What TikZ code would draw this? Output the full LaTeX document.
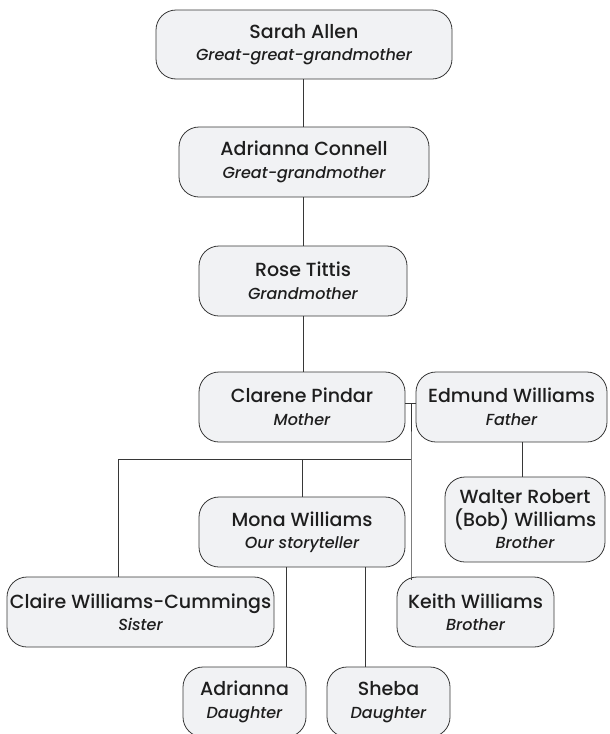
\documentclass[tikz,border=0pt]{standalone}
\usepackage{fontspec}
\setmainfont{Poppins Medium}[ItalicFont={Poppins Medium Italic}]
\definecolor{boxfill}{RGB}{241,242,244}
\definecolor{boxline}{RGB}{55,55,55}
\definecolor{inkcol}{RGB}{30,30,30}
\newcommand\kinrole[1]{{\fontsize{16}{22}\selectfont\itshape #1}}

\begin{document}
\begin{tikzpicture}[x=1pt,y=-1pt,
  person/.style={draw=boxline,fill=boxfill,rounded corners=20pt,line width=0.8pt,text=inkcol,
    align=center,inner sep=0pt,minimum height=70pt,font=\fontsize{19}{22.5}\selectfont},
  link/.style={draw=boxline,line width=0.8pt}]
\useasboundingbox (0,0) rectangle (610,734);

 \node[person,minimum width=296pt,minimum height=69pt] (sarah) at (304,44.5) {Sarah Allen\\\kinrole{Great-great-grandmother}};
 \node[person,minimum width=250pt] (connell) at (304,162) {Adrianna Connell\\\kinrole{Great-grandmother}};
 \node[person,minimum width=208pt] (rose) at (303,281) {Rose Tittis\\\kinrole{Grandmother}};
 \node[person,minimum width=206pt] (clarene) at (302,407) {Clarene Pindar\\\kinrole{Mother}};
 \node[person,minimum width=191pt] (edmund) at (511.5,407) {Edmund Williams\\\kinrole{Father}};
 \node[person,minimum width=206pt] (mona) at (302,532) {Mona Williams\\\kinrole{Our storyteller}};
 \node[person,minimum width=160pt,minimum height=85pt] (walter) at (525,519.5) {Walter Robert\\(Bob) Williams\\\kinrole{Brother}};
 \node[person,minimum width=267pt] (claire) at (140.5,612) {Claire Williams-Cummings\\\kinrole{Sister}};
 \node[person,minimum width=157pt] (keith) at (475.5,612) {Keith Williams\\\kinrole{Brother}};
 \node[person,minimum width=123pt] (adrianna) at (244.5,702) {Adrianna\\\kinrole{Daughter}};
 \node[person,minimum width=123pt] (sheba) at (388.5,702) {Sheba\\\kinrole{Daughter}};

 \coordinate (wed) at (411,403);
 \coordinate (kids) at (411,459);

 \draw[link] (sarah.south -| 303,0) -- (connell.north -| 303,0);
 \draw[link] (connell.south -| 303,0) -- (rose.north -| 303,0);
 \draw[link] (rose.south -| 303,0) -- (clarene.north -| 303,0);
 \draw[link] (clarene.east |- wed) -- (edmund.west |- wed);
 \draw[link] (wed) -- (kids) -- (keith.north -| wed) -- ++(0,3);
 \draw[link] (kids) -- (kids -| 118,0) -- (claire.north -| 118,0);
 \draw[link] (kids -| mona) -- (mona.north);
 \draw[link] (edmund.south -| 522,0) -- (walter.north -| 522,0);
 \draw[link] (mona.south -| 286,0) -- (adrianna.north -| 286,0);
 \draw[link] (mona.south -| 365,0) -- (sheba.north -| 365,0);

\end{tikzpicture}
\end{document}
